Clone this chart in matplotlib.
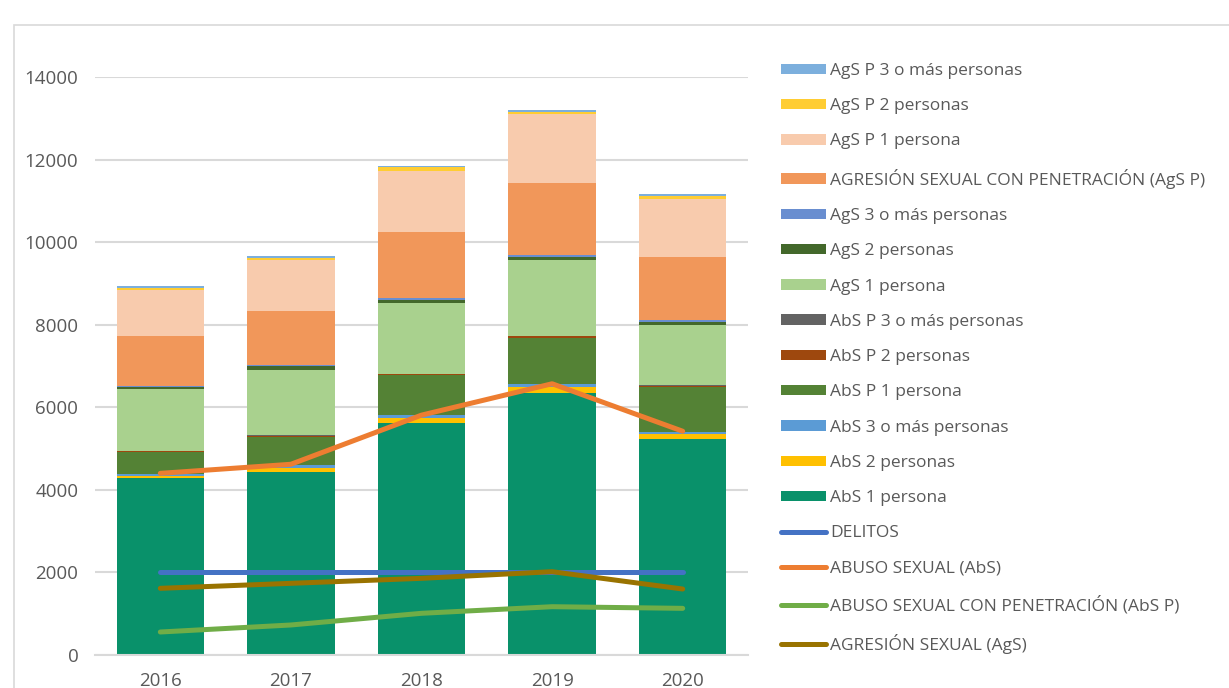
import numpy as np
import matplotlib.pyplot as plt
from matplotlib.patches import Rectangle, Patch
from matplotlib.lines import Line2D

plt.rcParams['font.family'] = ['Open Sans', 'DejaVu Sans']

years = ["2016", "2017", "2018", "2019", "2020"]

# stacked series, bottom to top
abs_1 = [4280, 4440, 5610, 6350, 5240]
abs_2 = [60, 80, 120, 130, 113]
abs_3 = [55, 70, 73, 73, 57]
abs_p1 = [510, 690, 970, 1115, 1080]
abs_p2 = [30, 30, 32, 48, 32]
abs_p3 = [10, 10, 10, 10, 10]
ags_1 = [1490, 1590, 1720, 1840, 1465]
ags_2 = [50, 80, 65, 80, 57]
ags_3 = [40, 40, 57, 48, 57]
ags_p = [1200, 1310, 1595, 1745, 1520]
ags_p1 = [1115, 1235, 1470, 1670, 1410]
ags_p2 = [57, 48, 89, 50, 73]
ags_p3 = [40, 30, 40, 40, 40]

# line series
delitos = [2000, 2000, 2000, 2000, 2000]
abuso = [4400, 4620, 5810, 6570, 5420]
abuso_pen = [557, 727, 1010, 1170, 1130]
agresion = [1615, 1736, 1857, 2018, 1598]

bar_series = [
    ("AbS 1 persona", abs_1, "#09916A"),
    ("AbS 2 personas", abs_2, "#FFC000"),
    ("AbS 3 o más personas", abs_3, "#5B9BD5"),
    ("AbS P 1 persona", abs_p1, "#548235"),
    ("AbS P 2 personas", abs_p2, "#9E480E"),
    ("AbS P 3 o más personas", abs_p3, "#636363"),
    ("AgS 1 persona", ags_1, "#A9D18E"),
    ("AgS 2 personas", ags_2, "#43682B"),
    ("AgS 3 o más personas", ags_3, "#698ED0"),
    ("AGRESIÓN SEXUAL CON PENETRACIÓN (AgS P)", ags_p, "#F1975A"),
    ("AgS P 1 persona", ags_p1, "#F8CBAD"),
    ("AgS P 2 personas", ags_p2, "#FFCD33"),
    ("AgS P 3 o más personas", ags_p3, "#7CAFDD"),
]
line_series = [
    ("DELITOS", delitos, "#4472C4"),
    ("ABUSO SEXUAL (AbS)", abuso, "#ED7D31"),
    ("ABUSO SEXUAL CON PENETRACIÓN (AbS P)", abuso_pen, "#70AD47"),
    ("AGRESIÓN SEXUAL (AgS)", agresion, "#997300"),
]

fig = plt.figure(figsize=(12.29, 6.88), dpi=100)
fig.patches.append(Rectangle((14 / 1229, -0.05), 1.1, (688 - 25) / 688 + 0.05,
                             transform=fig.transFigure, fill=False,
                             edgecolor="#D9D9D9", lw=1.2))
ax = fig.add_axes([95 / 1229, 33 / 688, 653 / 1229, 578 / 688])

x = np.arange(len(years))
bottom = np.zeros(len(years))
for name, vals, col in bar_series:
    ax.bar(x, vals, 0.67, bottom=bottom, color=col, zorder=2)
    bottom += np.array(vals)

for name, vals, col in line_series:
    ax.plot(x, vals, color=col, lw=3.6, solid_capstyle="round",
            solid_joinstyle="round", zorder=3)

ax.set_xlim(-0.5, 4.5)
ax.set_ylim(0, 14000)
ax.set_yticks(range(0, 14001, 2000))
ax.set_xticks(x)
ax.set_xticklabels(years)
ax.grid(axis="y", color="#D9D9D9", lw=1.5, zorder=0)
for s in ["top", "right", "left"]:
    ax.spines[s].set_visible(False)
ax.spines["bottom"].set_color("#D9D9D9")
ax.spines["bottom"].set_linewidth(1.5)
ax.tick_params(axis="both", length=0, labelsize=13.5, labelcolor="#595959")
ax.tick_params(axis="y", pad=12)
ax.tick_params(axis="x", pad=12)

handles = []
labels = []
for name, vals, col in reversed(bar_series):
    handles.append(Patch(facecolor=col))
    labels.append(name)
for name, vals, col in line_series:
    handles.append(Line2D([0], [0], color=col, lw=3.6, solid_capstyle="round"))
    labels.append(name)

fig.legend(handles, labels, loc="upper left", bbox_to_anchor=(774 / 1229, 1 - 56 / 688),
           frameon=False, fontsize=12.5, labelcolor="#595959", handlelength=2.6,
           handleheight=0.55, handletextpad=0.25, labelspacing=1.11, borderaxespad=0)

fig.savefig("out.png", dpi=100)
